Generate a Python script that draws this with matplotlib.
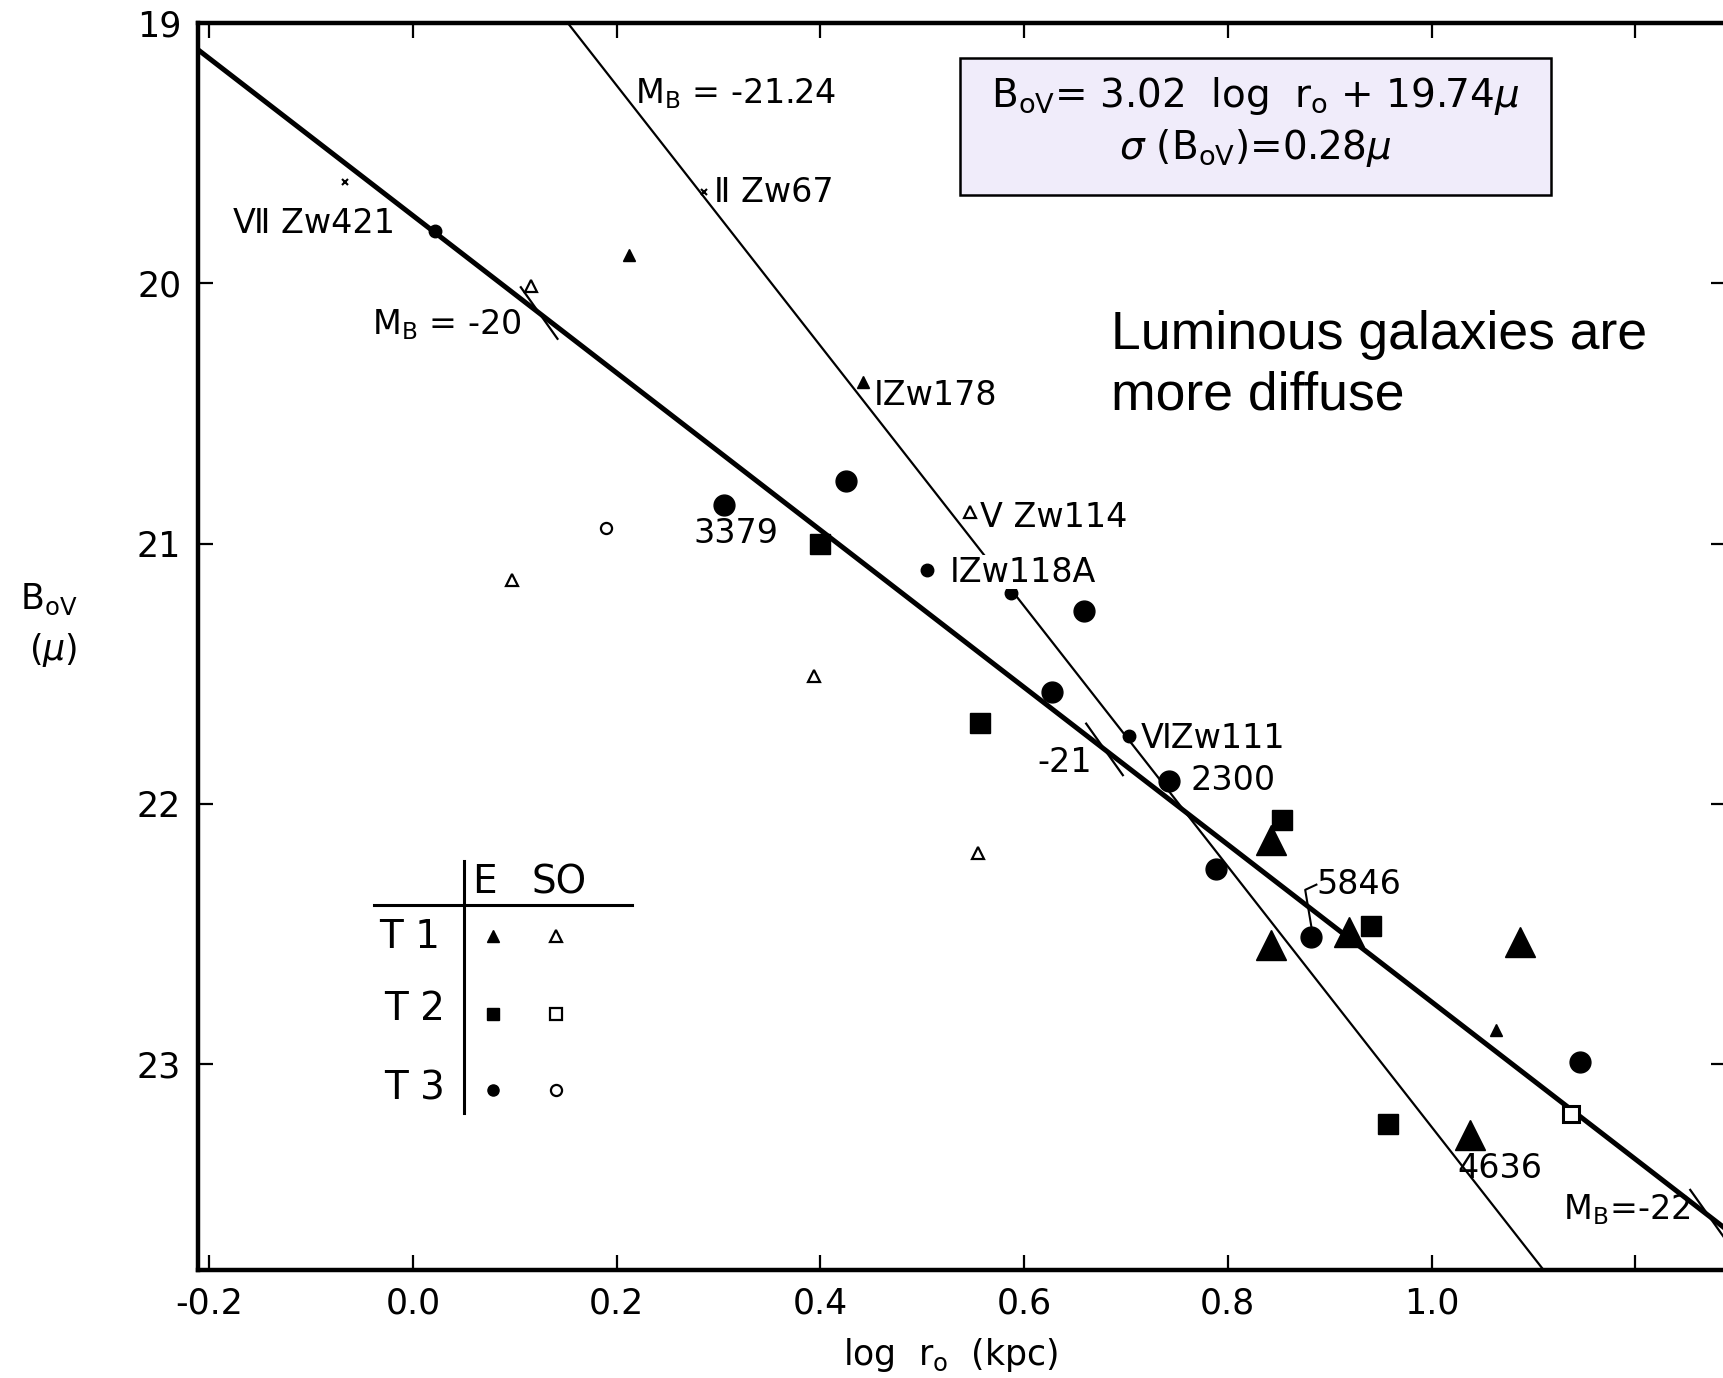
import matplotlib
matplotlib.use("Agg")
import matplotlib.pyplot as plt
from matplotlib.patches import Rectangle
import numpy as np

# ---- data: log r0 (kpc) and B0V (mag / arcsec^2) ----
# T1 ellipticals (filled triangles), well-measured
e_t1_x = [0.842, 0.842, 0.919, 1.087, 1.038]
e_t1_y = [22.14, 22.54, 22.49, 22.53, 23.27]
# T1 ellipticals, lower weight
e_t1s_x = [0.212, 0.442, 1.063]
e_t1s_y = [19.89, 20.38, 22.87]
# T1 S0 (open triangles)
s0_t1_x = [0.116, 0.097, 0.547, 0.394, 0.555]
s0_t1_y = [20.01, 21.14, 20.88, 21.51, 22.19]
# T2 ellipticals (filled squares)
e_t2_x = [0.400, 0.557, 0.853, 0.941, 0.957]
e_t2_y = [21.00, 21.69, 22.06, 22.47, 23.23]
# T2 S0 (open squares)
s0_t2_x = [1.137]
s0_t2_y = [23.19]
# T3 ellipticals (filled circles)
e_t3_x = [0.305, 0.425, 0.659, 0.627, 0.742, 0.788, 0.882, 1.146]
e_t3_y = [20.85, 20.76, 21.26, 21.57, 21.91, 22.25, 22.51, 22.99]
# T3 ellipticals, lower weight
e_t3s_x = [0.022, 0.505, 0.587, 0.703]
e_t3s_y = [19.80, 21.10, 21.19, 21.74]
# T3 S0 (open circles)
s0_t3_x = [0.190]
s0_t3_y = [20.94]
# compact objects (crosses)
cross_x = [-0.067, 0.286]
cross_y = [19.61, 19.65]

# regression B0V = slope * log r0 + intercept
fit_slope = 3.02
fit_intercept = 19.74
# line of constant luminosity M_B = -21.24
mb_slope = 5.0
mb_intercept = 18.24
# luminosity markers along the regression line
mb_mark_x = [0.124, 0.679, 1.272]

# object names
names = ["Ⅶ Zw421", "Ⅱ Zw67", "ⅠZw178", "Ⅴ Zw114", "3379", "ⅠZw118A",
         "ⅥZw111", "2300", "5846", "4636"]
name_x = [-0.177, 0.296, 0.452, 0.557, 0.317, 0.527, 0.715, 0.763, 0.887, 1.025]
name_y = [19.77, 19.65, 20.43, 20.90, 20.96, 21.11, 21.75, 21.91, 22.31, 23.40]

xticks = [-0.2, 0.0, 0.2, 0.4, 0.6, 0.8, 1.0, 1.2]
xticklabels = ["-0.2", "0.0", "0.2", "0.4", "0.6", "0.8", "1.0", ""]
yticks = [19, 20, 21, 22, 23]

plt.rcParams["font.family"] = ["DejaVu Sans"]
plt.rcParams["mathtext.fontset"] = "dejavusans"

fig = plt.figure(figsize=(17.24, 13.78), dpi=100)
ax = fig.add_axes([0.1148, 0.0784, 0.8863, 0.905])
ax.set_xlim(-0.211, 1.289)
ax.set_ylim(23.79, 19.0)

k = "black"
# regression line
xx = np.array([-0.211, 1.289])
ax.plot(xx, fit_slope * xx + fit_intercept, color=k, lw=3.6, zorder=3)
# constant-luminosity line
xx2 = np.array([0.1, 1.2])
ax.plot(xx2, mb_slope * xx2 + mb_intercept, color=k, lw=1.6, zorder=2)

# short slanted markers across the regression line
for xm in mb_mark_x:
    ym = fit_slope * xm + fit_intercept
    dx = 0.018
    ax.plot([xm - dx, xm + dx], [ym - 5.5 * dx, ym + 5.5 * dx], color=k, lw=1.6, zorder=3)

# points
ax.plot(e_t1_x, e_t1_y, "^", ms=21, color=k, zorder=4, ls="none")
ax.plot(e_t1s_x, e_t1s_y, "^", ms=9, color=k, zorder=4, ls="none")
ax.plot(s0_t1_x, s0_t1_y, "^", ms=8, mfc="white", mec=k, mew=1.6, zorder=4, ls="none")
ax.plot(e_t2_x, e_t2_y, "s", ms=15, color=k, zorder=4, ls="none")
ax.plot(s0_t2_x, s0_t2_y, "s", ms=11, mfc="white", mec=k, mew=2.2, zorder=4, ls="none")
ax.plot(e_t3_x, e_t3_y, "o", ms=15, color=k, zorder=4, ls="none")
ax.plot(e_t3s_x, e_t3s_y, "o", ms=9, color=k, zorder=4, ls="none")
ax.plot(s0_t3_x, s0_t3_y, "o", ms=8, mfc="white", mec=k, mew=1.6, zorder=4, ls="none")
ax.plot(cross_x, cross_y, "x", ms=5, color=k, mew=1.5, zorder=4, ls="none")

# labels
fs_lab = 24
for nm, tx, ty in zip(names, name_x, name_y):
    ha = "center" if nm == "3379" else "left"
    bbox = dict(facecolor="white", edgecolor="none", pad=0.5) if "118A" in nm else None
    ax.text(tx, ty, nm, fontsize=fs_lab, ha=ha, va="center", zorder=5, bbox=bbox)

# bracket linking 5846 to its point
ax.plot([0.882, 0.876, 0.887], [22.47, 22.33, 22.31], color=k, lw=1.5, zorder=4)

ax.text(0.218, 19.27, r"M$_{\rm B}$ = -21.24", fontsize=fs_lab, ha="left", va="center")
ax.text(-0.040, 20.16, r"M$_{\rm B}$ = -20", fontsize=fs_lab, ha="left", va="center")
ax.text(0.613, 21.84, "-21", fontsize=fs_lab, ha="left", va="center")
ax.text(1.129, 23.56, r"M$_{\rm B}$=-22", fontsize=fs_lab, ha="left", va="center")

# message
ax.text(0.685, 20.20, "Luminous galaxies are", fontsize=38.5, family="Liberation Sans",
        ha="left", va="center")
ax.text(0.685, 20.43, "more diffuse", fontsize=38.5, family="Liberation Sans",
        ha="left", va="center")

# equation box
ax.add_patch(Rectangle((0.499, 0.862), 0.3864, 0.1099, transform=ax.transAxes,
                       facecolor="#F0ECFA", edgecolor=k, lw=1.8, zorder=5))
ax.text(0.692, 0.9415, r"B$_{\rm oV}$= 3.02  log  r$_{\rm o}$ + 19.74$\mu$",
        transform=ax.transAxes, fontsize=28, ha="center", va="center", zorder=6)
ax.text(0.692, 0.8998, r"$\sigma$ (B$_{\rm oV}$)=0.28$\mu$",
        transform=ax.transAxes, fontsize=28, ha="center", va="center", zorder=6)

# symbol key
T = ax.transAxes
ax.plot([0.1153, 0.2842], [0.2927, 0.2927], color=k, lw=2.2, transform=T)
ax.plot([0.1742, 0.1742], [0.328, 0.1259], color=k, lw=2.2, transform=T)
ax.text(0.1873, 0.311, "E", fontsize=28, ha="center", va="center", transform=T)
ax.text(0.2361, 0.311, "SO", fontsize=28, ha="center", va="center", transform=T)
for lab, xx_, yy in zip(["T 1", "T 2", "T 3"], [0.1388, 0.1418, 0.1418],
                        [0.267, 0.2093, 0.1455]):
    ax.text(xx_, yy, lab, fontsize=28, ha="center", va="center", transform=T)
kx = [0.1929, 0.2346]
ky = [0.268, 0.2055, 0.1447]
ax.plot(kx[0], ky[0], "^", ms=9, color=k, transform=T)
ax.plot(kx[1], ky[0], "^", ms=8, mfc="white", mec=k, mew=1.6, transform=T)
ax.plot(kx[0], ky[1], "s", ms=8, color=k, transform=T)
ax.plot(kx[1], ky[1], "s", ms=8, mfc="white", mec=k, mew=1.6, transform=T)
ax.plot(kx[0], ky[2], "o", ms=8, color=k, transform=T)
ax.plot(kx[1], ky[2], "o", ms=8, mfc="white", mec=k, mew=1.6, transform=T)

# axes styling
for s in ax.spines.values():
    s.set_linewidth(3.2)
ax.set_xticks(xticks)
ax.set_xticklabels(xticklabels)
ax.set_yticks(yticks)
ax.tick_params(direction="in", length=11, width=1.6, labelsize=25, pad=12,
               top=True, right=True)

fig.text(0.5516, 0.0167, r"log  r$_{\rm o}$  (kpc)", fontsize=25, ha="center", va="center")
fig.text(0.0284, 0.565, r"B$_{\rm oV}$", fontsize=25, ha="center", va="center")
fig.text(0.0307, 0.528, r"($\mu$)", fontsize=25, ha="center", va="center")

fig.savefig("out.png", dpi=100, facecolor="white")
